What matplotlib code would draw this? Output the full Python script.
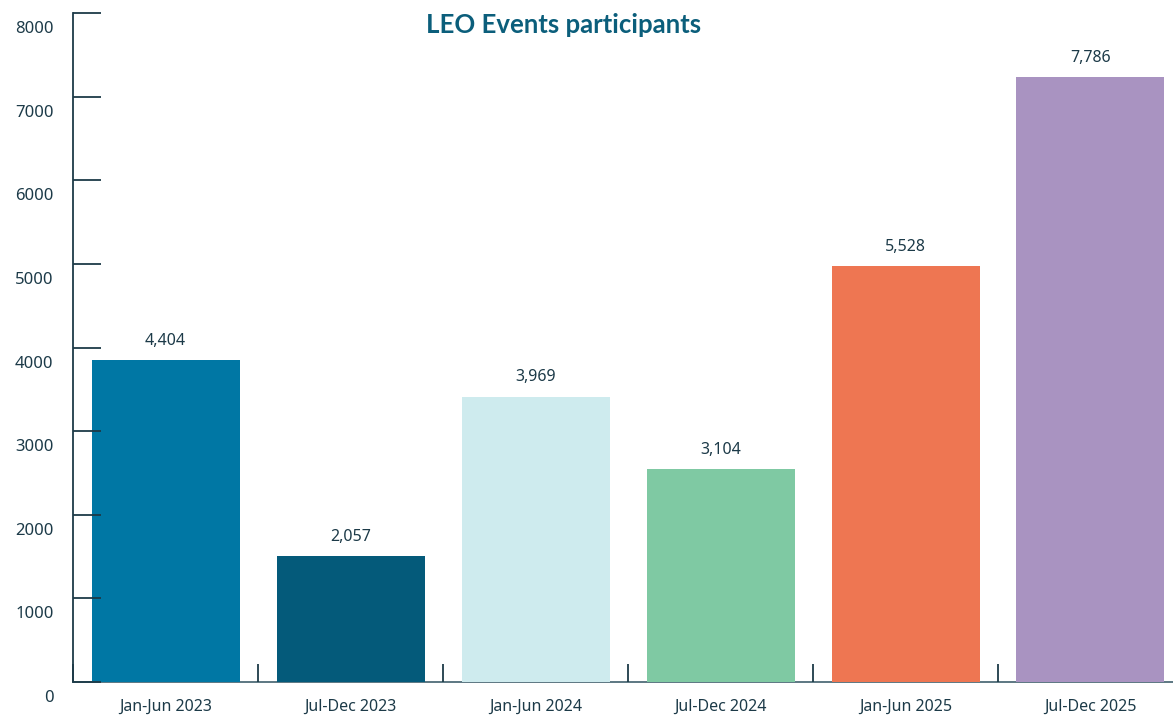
import numpy as np
import matplotlib
matplotlib.use('Agg')
import matplotlib.pyplot as plt
from matplotlib.transforms import ScaledTranslation

# chart data
periods = ['Jan-Jun 2023', 'Jul-Dec 2023', 'Jan-Jun 2024',
           'Jul-Dec 2024', 'Jan-Jun 2025', 'Jul-Dec 2025']
participants = [4404, 2057, 3969, 3104, 5528, 7786]
bar_colors = ['#0077a4', '#045a7a', '#ceebee', '#7fc9a3', '#ee7652', '#a993c1']
tick_values = np.arange(0, 8001, 1000)

# the source chart's axis sits above the bar baseline
axis_offset = 555

text_color = '#1c3a48'
plt.rcParams['font.family'] = ['Noto Sans', 'DejaVu Sans']

fig = plt.figure(figsize=(11.73, 7.15), dpi=100)
ax = fig.add_axes([73 / 1173, 1 - 682 / 715, 1110 / 1173, 669 / 715])

x = np.arange(len(periods))
bars = ax.bar(x, participants, width=0.8, color=bar_colors, zorder=1)

ax.set_xlim(-0.5, len(periods) - 0.5)
ax.set_ylim(axis_offset, axis_offset + 8000)

for b, v in zip(bars, participants):
    ax.annotate(f'{v:,}', (b.get_x() + b.get_width() / 2, v),
                xytext=(0, 8), textcoords='offset points',
                ha='center', va='bottom', fontsize=11.5, color=text_color)

# spines
for s in ['top', 'right']:
    ax.spines[s].set_visible(False)
ax.spines['left'].set_color(text_color)
ax.spines['left'].set_linewidth(1.3)
ax.spines['bottom'].set_color('#4f6c78')
ax.spines['bottom'].set_linewidth(1.3)
ax.spines['left'].set_zorder(3)
ax.spines['bottom'].set_zorder(0.5)

# y ticks: inward, labels sitting below each tick
ax.set_yticks(axis_offset + tick_values)
ax.set_yticklabels([str(t) for t in tick_values])
ax.tick_params(axis='y', direction='in', length=20, width=1.3, color=text_color,
               labelsize=12, labelcolor=text_color, pad=14)
shift = ScaledTranslation(0, -14 / 100, fig.dpi_scale_trans)
for lab in ax.get_yticklabels():
    lab.set_transform(lab.get_transform() + shift)

# x ticks: labels at centers, small inward ticks between bars
ax.set_xticks(x)
ax.set_xticklabels(periods)
ax.tick_params(axis='x', length=0, labelsize=11.5, labelcolor=text_color, pad=12)
ax.set_xticks(np.arange(len(periods) + 1) - 0.5, minor=True)
ax.tick_params(axis='x', which='minor', direction='in', length=13, width=1.3,
               color=text_color)
ax.tick_params(axis='y', which='minor', length=0)

fig.text(564 / 1173, 1 - 25 / 715, 'LEO Events participants', ha='center',
         va='center', fontsize=18.5, fontweight='bold', color='#0b5e7b',
         family=['Lato', 'DejaVu Sans'])

fig.savefig('out.png', dpi=100)
